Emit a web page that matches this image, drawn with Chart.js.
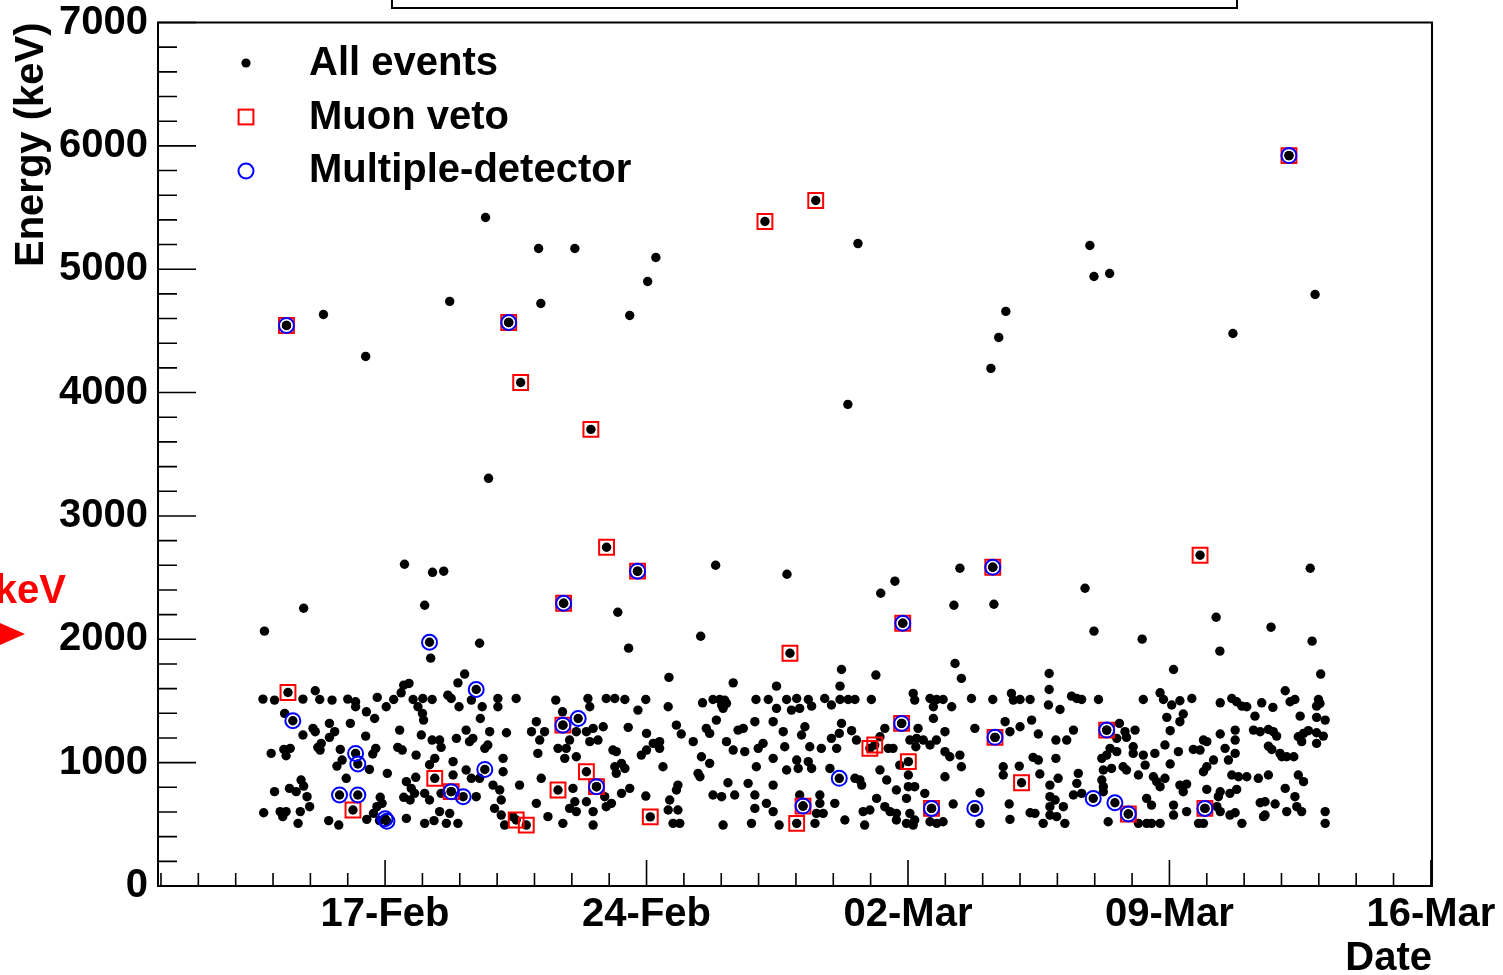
<!DOCTYPE html>
<html>
<head>
<meta charset="utf-8">
<title>Energy vs date</title>
<script src="https://cdn.jsdelivr.net/npm/chart.js@4"></script>
<style>
  html, body { margin: 0; padding: 0; background: #fff; }
  canvas { display: block; }
</style>
</head>
<body>
<canvas id="plot" width="1503" height="975"></canvas>
<script>
// x = day counted from 1 Feb (29-day February, so 02-Mar = 31), y = energy in keV
const dateTicks = [17, 24, 31, 38, 45];
const dateLabels = ['17-Feb', '24-Feb', '02-Mar', '09-Mar', '16-Mar'];
const dayMin = 10.92, dayMax = 45.03;
const keVMin = 0, keVMax = 7000;

// events above the ~1.7 MeV band
const evHigh = [
  [15.35,4633],[16.48,4293],[13.77,2066],[14.82,2252],[17.52,2608],[18.06,2276],[18.27,2543],[18.57,2552],
  [18.22,1847],[18.73,4739],[19.69,5419],[19.77,3305],[19.53,1968],[21.11,5168],[21.17,4722],[22.08,5168],
  [23.23,2219],[23.52,1928],[23.55,4625],[24.03,4900],[24.25,5095],[25.45,2025],[25.85,2600],[27.76,2527],
  [29.66,5208],[29.39,3904],[30.27,2373],[30.65,2471],[32.39,2576],[32.23,2276],[33.30,2284],[33.22,4196],
  [33.43,4447],[33.62,4658],[35.74,2414],[35.98,2066],[37.27,2001],[39.25,2179],[39.35,1904],[40.72,2098],
  [41.77,2576],[41.82,1985],[41.90,4795],[39.70,4479],[35.87,5192],[35.98,4941],[36.40,4965]
];

// low-energy band, split by date
const evFeb13 = [
  [13.73,1515],[14.04,1507],[14.80,1515],[15.13,1583],[15.25,1512],[15.58,1507],[16.00,1515],[16.21,1494],
  [16.21,1453],[16.79,1529],[17.03,1453],[17.23,1512],[17.43,1566],[17.50,1628],[17.64,1642],[17.75,1512],
  [18.01,1520],[17.88,1453],[18.00,1399],[18.03,1345],[18.26,1512],
  [14.31,1399],[14.80,1224],[15.07,1278],[15.13,1251],[15.51,1318],[15.65,1251],[15.51,1205],[15.29,1156],
  [15.20,1124],[15.26,1102],[16.07,1318],[16.48,1215],[16.50,1412],[16.72,1358],[17.39,1264],[17.34,1124],
  [17.46,1102],[17.97,1224],[17.83,1061],[18.26,1183],
  [13.95,1075],[14.29,1107],[14.46,1116],[14.35,1056],[15.80,1107],[15.85,1021],[15.71,972],[15.96,873],
  [16.58,945],[16.75,1116],[16.67,1070],[17.06,913],[17.82,881],[17.57,846],[17.70,791],[17.79,751],
  [14.04,765],[14.44,791],[14.75,859],[14.82,810],[14.91,724],[14.62,765],[14.98,643],[16.87,719],
  [16.92,670],[16.78,643],[16.69,589],[17.50,719],[17.67,697],[18.06,751],[18.06,508],
  [13.75,594],[14.19,603],[14.26,562],[14.35,603],[14.73,603],[14.67,508],[15.49,530],[15.76,494],
  [16.51,540],[16.85,530],[17.57,548],[18.31,530]
];

const evFeb18 = [
  [19.13,1718],[18.95,1647],[18.68,1547],[18.77,1520],[18.98,1453],[19.31,1507],[19.60,1453],[19.55,1358],
  [20.02,1520],[20.02,1453],[20.51,1520],
  [21.57,1507],[21.75,1412],[22.43,1520],[22.48,1453],[22.92,1520],[23.15,1520],[22.57,1278],[22.84,1291],
  [22.70,1183],[22.48,1170],[22.39,1251],[22.12,1251],[21.94,1183],[21.63,1116],[21.85,1116],[21.05,1332],
  [20.92,1251],[21.27,1251],[21.14,1183],[21.09,1075],[21.81,1035],[22.12,1048],[23.10,1102],[23.15,967],
  [19.17,1264],[19.35,1197],[19.26,1170],[19.80,1251],[20.25,1242],[19.75,1143],[19.67,1116],[18.91,1197],
  [18.46,1183],[18.50,1124],[18.33,1035],[18.19,983],[18.82,1008],[19.17,940],[20.16,1035],[20.16,926],
  [19.53,873],
  [18.82,900],[18.50,751],[18.19,697],[19.44,724],[19.31,873],[19.89,818],[20.07,778],[20.11,697],
  [20.60,818],[21.18,873],[22.03,791],[22.08,683],[22.39,683],[22.88,724],[22.92,643],[21.94,629],
  [18.46,603],[18.64,508],[18.95,508],[18.73,589],[19.93,629],[20.11,575],[20.20,494],[20.42,562],
  [21.05,670],[21.36,562],[21.76,508],[22.12,603],[22.57,603],[22.57,494],[23.06,670]
];

const evFeb23 = [
  [24.60,1691],[26.32,1647],[27.48,1620],[23.42,1512],[23.98,1512],[23.77,1426],[24.58,1453],[25.50,1485],
  [25.78,1512],[25.96,1512],[26.09,1507],[26.01,1467],[26.14,1480],[26.05,1440],[26.93,1512],[27.26,1512],
  [27.75,1512],[27.48,1440],[27.88,1426],
  [23.51,1286],[24.00,1237],[24.80,1304],[24.93,1232],[25.25,1170],[25.60,1278],[25.69,1237],[25.87,1345],
  [26.45,1264],[26.59,1278],[26.14,1170],[26.32,1102],[26.63,1089],[26.90,1332],[27.39,1332],[26.99,1116],
  [27.12,1156],[27.66,1251],[27.70,1129],[27.39,1035],[27.75,940],
  [23.19,1089],[24.18,1156],[24.35,1170],[24.35,1116],[23.86,1061],[24.00,1102],[23.33,994],[23.42,953],
  [23.19,913],[24.44,967],[25.47,1048],[25.69,994],[25.38,913],[25.43,886],[26.94,967],
  [24.84,818],[24.80,778],[23.55,791],[23.33,751],[23.98,729],[24.62,697],[24.58,616],[24.84,616],
  [25.78,738],[26.01,724],[26.36,738],[26.18,837],[26.72,832],[26.90,738],[27.39,818],[26.90,629],
  [27.21,670],[27.39,603],
  [24.71,508],[24.89,508],[26.05,494],[26.81,508],[27.55,494]
];

const evFeb28 = [
  [29.22,1755],[30.14,1710],[29.18,1620],[28.02,1520],[28.33,1512],[28.42,1458],[28.77,1520],[28.95,1467],
  [29.18,1512],[29.40,1512],[29.58,1512],[30.02,1512],[28.10,1440],
  [31.14,1561],[31.18,1507],[31.59,1520],[31.77,1512],[31.94,1512],[32.17,1453],[31.68,1453],[32.26,1804],
  [32.43,1683],[31.27,1278],[31.68,1358],[31.99,1251],
  [29.22,1318],[29.49,1259],[29.16,1237],[28.95,1197],[28.24,1291],[28.15,1224],[28.37,1129],[28.68,1116],
  [29.09,1116],[29.62,1183],[30.25,1210],[30.38,1278],[30.47,1116],[30.60,1116],[31.05,1183],[31.23,1197],
  [31.41,1183],[31.21,1129],[31.59,1143],[31.76,1183],[31.99,1089],[32.12,1048],[32.39,1061],[30.78,980],
  [28.02,1021],[28.06,953],[28.33,1008],[28.42,953],[28.91,953],[29.58,873],[29.71,859],[29.76,818],
  [30.25,940],[30.43,859],[30.69,778],[31.01,900],[31.01,805],[31.18,805],[31.99,886],[32.43,967],
  [28.10,738],[28.64,738],[28.64,670],[28.55,589],[28.73,589],[28.51,508],[29.04,670],[29.31,535],
  [29.80,603],[29.98,616],[29.84,494],[30.16,710],[30.38,643],[30.52,603],[30.69,589],[30.69,535],
  [30.96,710],[31.05,589],[30.96,508],[31.18,535],[31.14,494],[31.45,751],[31.77,508],[31.59,521],
  [31.94,521],[32.21,665]
];

const evMar03 = [
  [34.78,1723],[34.78,1593],[32.70,1520],[33.27,1512],[33.77,1561],[33.82,1507],[34.00,1512],[34.27,1512],
  [34.76,1467],[35.07,1431],[35.38,1539],[35.52,1520],[35.65,1512],[36.10,1512],[37.30,1512],
  [32.79,1278],[33.60,1332],[33.73,1251],[34.00,1291],[34.31,1345],[34.49,1232],[34.96,1183],[35.25,1183],
  [35.43,1264],[36.66,1318],[36.81,1251],[37.08,1264],[36.85,1205],[36.59,1197],[36.41,1116],[36.59,1089],
  [36.32,1061],[36.19,1035],[37.03,1129],[37.03,1075],[37.30,1061],
  [34.35,1043],[34.49,1021],[34.96,1035],[33.55,967],[33.98,972],[33.55,900],[34.53,908],[35.02,873],
  [35.56,913],[35.52,832],[36.23,940],[36.19,859],[36.45,953],[36.76,967],[36.85,940],[37.35,980],
  [37.17,900],
  [32.93,756],[33.71,665],[33.73,540],[32.93,508],[34.27,594],[34.40,589],[34.80,818],[34.80,724],
  [34.80,643],[34.94,697],[35.16,643],[34.80,575],[34.98,562],[34.62,508],[35.20,508],[35.43,738],
  [35.65,751],[36.23,805],[36.23,764],[36.36,521],[37.17,508],[37.39,508],[37.39,710]
];

const evMar08 = [
  [38.11,1755],[42.05,1718],[41.10,1583],[37.75,1566],[37.84,1512],[38.06,1467],[38.28,1502],[38.60,1520],
  [39.36,1485],[39.67,1520],[39.80,1494],[39.94,1458],[40.07,1453],[40.47,1485],[40.77,1448],[41.23,1494],
  [41.36,1512],[41.99,1512],[42.03,1480],[41.94,1458],
  [37.93,1367],[38.37,1394],[38.28,1332],[38.02,1259],[39.36,1232],[39.76,1264],[40.29,1377],[40.25,1264],
  [40.43,1251],[40.65,1269],[40.78,1251],[40.87,1215],[41.50,1377],[41.94,1367],[42.17,1345],[41.45,1210],
  [41.59,1237],[41.72,1259],[41.94,1242],[42.12,1215],[41.54,1170],[41.94,1156],
  [37.88,1143],[37.61,1075],[38.24,1089],[38.64,1107],[38.91,1183],[39.00,1170],[38.82,1102],[39.49,1116],
  [39.76,1183],[39.76,1075],[40.65,1134],[40.74,1107],[40.96,1075],[41.01,1048],[41.14,1048],[41.33,1048],
  [39.18,1021],[39.58,1021],[38.02,989],[39.00,967],[38.91,926],
  [37.57,886],[37.88,873],[37.66,846],[37.75,805],[38.28,818],[38.46,826],[38.37,764],[39.00,783],
  [39.36,764],[39.31,724],[39.62,751],[39.80,783],[39.67,900],[39.85,886],[40.07,886],[40.38,873],
  [40.65,900],[41.45,900],[41.59,846],[41.10,791],[41.36,724],[41.41,643],[41.54,603],
  [39.27,643],[39.36,603],[37.52,656],[38.11,656],[38.11,575],[38.46,603],[38.78,508],[38.91,508],
  [37.52,508],[37.75,508],[39.62,575],[39.76,594],[39.94,508],[40.43,675],[40.56,683],[40.83,665],
  [40.56,575],[40.52,562],[41.14,603],[42.17,603],[42.17,508]
];

// tagged events (each one is also an event of the full set)
const muonVeto = [
  [14.36,4544],[14.40,1569],[16.14,616],[18.33,873],[18.77,765],[20.51,535],[20.78,494],[21.63,778],
  [22.39,926],[22.66,805],[21.76,1304],[24.10,560],[20.31,4568],[20.63,4082],[22.51,3702],[21.78,2292],
  [22.93,2746],[23.76,2552],[27.84,1887],[27.17,5387],[28.53,5557],[30.86,2130],[33.27,2584],[38.82,2681],
  [41.20,5921],[30.83,1318],[29.98,1116],[30.11,1143],[31.01,1008],[28.19,648],[28.02,508],[31.63,629],
  [33.33,1205],[36.32,1264],[34.04,837],[36.90,584],[38.95,629]
];

const multiDetector = [
  [14.36,4544],[14.53,1340],[16.21,1075],[16.27,989],[15.78,738],[16.27,738],[17.00,545],[17.05,525],
  [18.19,1976],[19.44,1593],[19.67,945],[18.77,765],[19.09,724],[21.76,1304],[22.17,1358],[22.66,805],
  [20.31,4568],[21.78,2292],[23.76,2552],[29.16,873],[28.19,648],[30.83,1318],[30.86,2130],[31.63,629],
  [32.79,629],[33.33,1205],[33.27,2584],[35.96,710],[36.32,1264],[36.54,675],[36.90,584],[38.95,629],
  [41.20,5921]
];

const toPts = arr => arr.map(p => ({ x: p[0], y: p[1] }));
const allEvents = [].concat(evHigh, evFeb13, evFeb18, evFeb23, evFeb28, evMar03, evMar08, muonVeto, multiDetector);

const FONT = '"Liberation Sans", Arial, Helvetica, sans-serif';
const bold40 = { family: FONT, size: 40, weight: 'bold', lineHeight: 1 };
const RED = '#ff0000', BLUE = '#0000ff';

// ROOT style frame: ticks inside, legend without a box, and the side notes
const rootFrame = {
  id: 'rootFrame',
  afterDraw(chart) {
    const ctx = chart.ctx;
    const a = chart.chartArea;
    const xs = chart.scales.x, ys = chart.scales.y;
    ctx.save();
    ctx.strokeStyle = '#000';
    ctx.lineWidth = 1.6;
    ctx.beginPath();
    xs.ticks.forEach(t => {
      const px = xs.getPixelForValue(t.value);
      const len = dateTicks.includes(Math.round(t.value)) ? 26 : 13;
      ctx.moveTo(px, a.bottom);
      ctx.lineTo(px, a.bottom - len);
    });
    ys.ticks.forEach(t => {
      const py = ys.getPixelForValue(t.value);
      const len = t.value % 1000 === 0 ? 38 : 19;
      ctx.moveTo(a.left, py);
      ctx.lineTo(a.left + len, py);
    });
    ctx.stroke();
    ctx.lineWidth = 2;
    ctx.strokeRect(a.left, a.top, a.right - a.left, a.bottom - a.top);

    // title box, mostly above the canvas
    ctx.strokeRect(392, -20, 845, 28);

    // legend
    ctx.fillStyle = '#000';
    ctx.beginPath();
    ctx.arc(246, 63, 4.6, 0, Math.PI * 2);
    ctx.fill();
    ctx.strokeStyle = RED;
    ctx.strokeRect(246 - 7.4, 117 - 7.4, 14.8, 14.8);
    ctx.strokeStyle = BLUE;
    ctx.beginPath();
    ctx.arc(246, 171, 7.5, 0, Math.PI * 2);
    ctx.stroke();
    ctx.font = 'bold 40px ' + FONT;
    ctx.textBaseline = 'middle';
    ctx.textAlign = 'left';
    ctx.fillText('All events', 309, 64);
    ctx.fillText('Muon veto', 309, 118);
    ctx.fillText('Multiple-detector', 309, 171);

    // red note at the left edge
    ctx.fillStyle = RED;
    ctx.textAlign = 'right';
    ctx.textBaseline = 'alphabetic';
    ctx.fillText('keV', 66, 603);
    ctx.beginPath();
    ctx.moveTo(-2, 622);
    ctx.lineTo(25, 634);
    ctx.lineTo(-2, 646);
    ctx.closePath();
    ctx.fill();
    ctx.restore();
  }
};

Chart.defaults.font.family = FONT;

new Chart(document.getElementById('plot'), {
  type: 'scatter',
  data: {
    datasets: [
      {
        label: 'All events',
        data: toPts(allEvents),
        pointStyle: 'circle',
        pointRadius: 4.7,
        borderWidth: 0,
        backgroundColor: '#000',
        order: 3
      },
      {
        label: 'Muon veto',
        data: toPts(muonVeto),
        pointStyle: 'rect',
        pointRadius: 10.5,
        borderWidth: 2,
        borderColor: RED,
        backgroundColor: 'rgba(0,0,0,0)',
        order: 2
      },
      {
        label: 'Multiple-detector',
        data: toPts(multiDetector),
        pointStyle: 'circle',
        pointRadius: 7.5,
        borderWidth: 2,
        borderColor: BLUE,
        backgroundColor: 'rgba(0,0,0,0)',
        order: 1
      }
    ]
  },
  options: {
    responsive: false,
    animation: false,
    events: [],
    layout: { autoPadding: false, padding: { top: 22.5, right: 71, left: 0, bottom: 0 } },
    plugins: { legend: { display: false }, tooltip: { enabled: false } },
    scales: {
      x: {
        type: 'linear',
        position: 'bottom',
        min: dayMin,
        max: dayMax,
        grid: { display: false, drawTicks: false },
        border: { display: false },
        ticks: {
          stepSize: 1,
          includeBounds: false,
          autoSkip: false,
          maxRotation: 0,
          color: '#000',
          font: bold40,
          padding: 9,
          callback: v => {
            const i = dateTicks.indexOf(Math.round(v));
            return (i >= 0 && Math.abs(v - Math.round(v)) < 1e-6) ? dateLabels[i] : '';
          }
        },
        title: { display: true, text: 'Date', align: 'end', color: '#000', font: bold40, padding: { top: 0, bottom: -4 } },
        afterFit: s => {
          s.height = 89;
          s.paddingLeft = 0;
          s.paddingRight = 0;
        }
      },
      y: {
        type: 'linear',
        position: 'left',
        min: keVMin,
        max: keVMax,
        grid: { display: false, drawTicks: false },
        border: { display: false },
        ticks: {
          stepSize: 200,
          autoSkip: false,
          color: '#000',
          font: bold40,
          padding: 10,
          callback: v => (v % 1000 === 0 ? String(v) : '')
        },
        title: { display: true, text: 'Energy (keV)', align: 'end', color: '#000', font: bold40, padding: { top: 12, bottom: 0 } },
        afterFit: s => {
          s.width = 158;
          s.paddingTop = 0;
          s.paddingBottom = 0;
        }
      }
    }
  },
  plugins: [rootFrame]
});
</script>
</body>
</html>
